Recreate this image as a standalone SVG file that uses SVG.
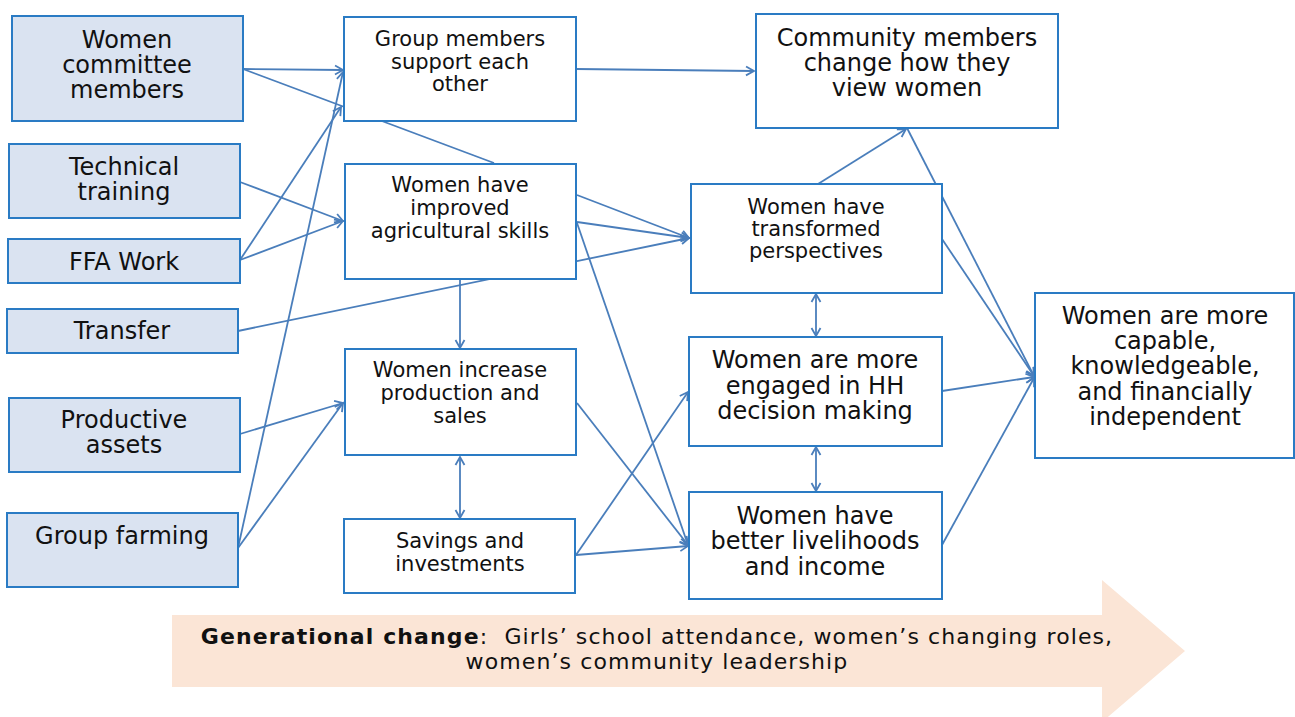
<svg xmlns="http://www.w3.org/2000/svg" width="1295" height="717" viewBox="0 0 1295 717">
<style>
.in rect{fill:#dae3f1;stroke:#2a7bc4;stroke-width:2}
.bx rect{fill:#fff;stroke:#2a7bc4;stroke-width:2}
text{font-family:"DejaVu Sans","Liberation Sans",sans-serif;fill:#111;text-anchor:middle}
.l{font-size:24px}
.m{font-size:21px}
.g{font-size:22px;letter-spacing:1.1px}
.c line,.c path{stroke:#4a7ebb;stroke-width:1.8;fill:none}
.a{marker-end:url(#ah)}
.d{marker-end:url(#ah);marker-start:url(#ah)}
</style>
<defs>
<marker id="ah" markerUnits="userSpaceOnUse" markerWidth="12" markerHeight="12" refX="9" refY="5" orient="auto-start-reverse" viewBox="0 0 12 10">
<path d="M1,0.5 L9,5 L1,9.5" fill="none" stroke="#4a7ebb" stroke-width="1.8"/>
</marker>
</defs>
<g id="generational-change">
<path d="M172,615 H1102 V580 L1185,651 L1102,722 V687 H172 Z" fill="#fbe5d6"/>
<text class="g" x="657" y="644" xml:space="preserve"><tspan font-weight="bold">Generational change</tspan>:  Girls’ school attendance, women’s changing roles,<tspan x="657" y="669">women’s community leadership</tspan></text>
</g>
<g id="connectors" class="c">
<line class="a" x1="243" y1="69" x2="343" y2="70"/>
<line x1="243" y1="69" x2="494" y2="163"/>
<line class="a" x1="240" y1="182" x2="343" y2="221"/>
<line class="a" x1="240" y1="260" x2="341" y2="107"/>
<line class="a" x1="240" y1="260" x2="343" y2="221"/>
<line class="a" x1="238" y1="548" x2="343" y2="72"/>
<line class="a" x1="238" y1="331" x2="689" y2="238"/>
<line class="a" x1="240" y1="434" x2="343" y2="403"/>
<line class="a" x1="238" y1="548" x2="343" y2="403"/>
<line class="a" x1="576" y1="69" x2="754" y2="71"/>
<line class="a" x1="577" y1="195" x2="689" y2="238"/>
<line class="a" x1="577" y1="222" x2="689" y2="238"/>
<line class="a" x1="577" y1="223" x2="688" y2="545"/>
<line class="a" x1="460" y1="279" x2="460" y2="348"/>
<line class="d" x1="460" y1="457" x2="460" y2="518"/>
<line class="a" x1="577" y1="403" x2="688" y2="545"/>
<line class="a" x1="576" y1="555" x2="688" y2="392"/>
<line class="a" x1="576" y1="555" x2="688" y2="546"/>
<line class="a" x1="818" y1="184" x2="906" y2="129"/>
<line class="d" x1="816" y1="294" x2="816" y2="336"/>
<line class="d" x1="816" y1="447" x2="816" y2="491"/>
<line class="a" x1="907" y1="128" x2="1034" y2="376"/>
<line class="a" x1="942" y1="239" x2="1034" y2="376"/>
<line class="a" x1="942" y1="391" x2="1034" y2="377"/>
<line class="a" x1="942" y1="545" x2="1034" y2="378"/>
</g>
<g id="n-women-committee" class="in"><rect x="12" y="16" width="231" height="105"/>
<text class="l" x="127" y="48">Women<tspan x="127" y="73">committee</tspan><tspan x="127" y="98">members</tspan></text></g>
<g id="n-technical-training" class="in"><rect x="9" y="144" width="231" height="74"/>
<text class="l" x="124" y="175">Technical<tspan x="124" y="200">training</tspan></text></g>
<g id="n-ffa-work" class="in"><rect x="8" y="239" width="232" height="44"/>
<text class="l" x="124" y="270">FFA Work</text></g>
<g id="n-transfer" class="in"><rect x="7" y="309" width="231" height="44"/>
<text class="l" x="122" y="339">Transfer</text></g>
<g id="n-productive-assets" class="in"><rect x="9" y="398" width="231" height="74"/>
<text class="l" x="124" y="428">Productive<tspan x="124" y="453">assets</tspan></text></g>
<g id="n-group-farming" class="in"><rect x="7" y="513" width="231" height="74"/>
<text class="l" x="122" y="544">Group farming</text></g>
<g id="n-group-members" class="bx"><rect x="344" y="17" width="232" height="104"/>
<text class="m" x="460" y="46">Group members<tspan x="460" y="69">support each</tspan><tspan x="460" y="91">other</tspan></text></g>
<g id="n-agri-skills" class="bx"><rect x="345" y="164" width="231" height="115"/>
<text class="m" x="460" y="192">Women have<tspan x="460" y="215">improved</tspan><tspan x="460" y="238">agricultural skills</tspan></text></g>
<g id="n-production-sales" class="bx"><rect x="345" y="349" width="231" height="106"/>
<text class="m" x="460" y="377">Women increase<tspan x="460" y="400">production and</tspan><tspan x="460" y="423">sales</tspan></text></g>
<g id="n-savings" class="bx"><rect x="344" y="519" width="231" height="74"/>
<text class="m" x="460" y="548">Savings and<tspan x="460" y="571">investments</tspan></text></g>
<g id="n-community" class="bx"><rect x="756" y="14" width="302" height="114"/>
<text class="l" x="907" y="46">Community members<tspan x="907" y="71">change how they</tspan><tspan x="907" y="96">view women</tspan></text></g>
<g id="n-perspectives" class="bx"><rect x="691" y="184" width="251" height="109"/>
<text class="m" x="816" y="214">Women have<tspan x="816" y="236">transformed</tspan><tspan x="816" y="258">perspectives</tspan></text></g>
<g id="n-hh-decision" class="bx"><rect x="689" y="337" width="253" height="109"/>
<text class="l" x="815" y="368">Women are more<tspan x="815" y="394">engaged in HH</tspan><tspan x="815" y="419">decision making</tspan></text></g>
<g id="n-livelihoods" class="bx"><rect x="689" y="492" width="253" height="107"/>
<text class="l" x="815" y="524">Women have<tspan x="815" y="549">better livelihoods</tspan><tspan x="815" y="575">and income</tspan></text></g>
<g id="n-capable" class="bx"><rect x="1035" y="293" width="259" height="165"/>
<text class="l" x="1165" y="324">Women are more<tspan x="1165" y="349">capable,</tspan><tspan x="1165" y="374">knowledgeable,</tspan><tspan x="1165" y="400">and financially</tspan><tspan x="1165" y="425">independent</tspan></text></g>
</svg>
